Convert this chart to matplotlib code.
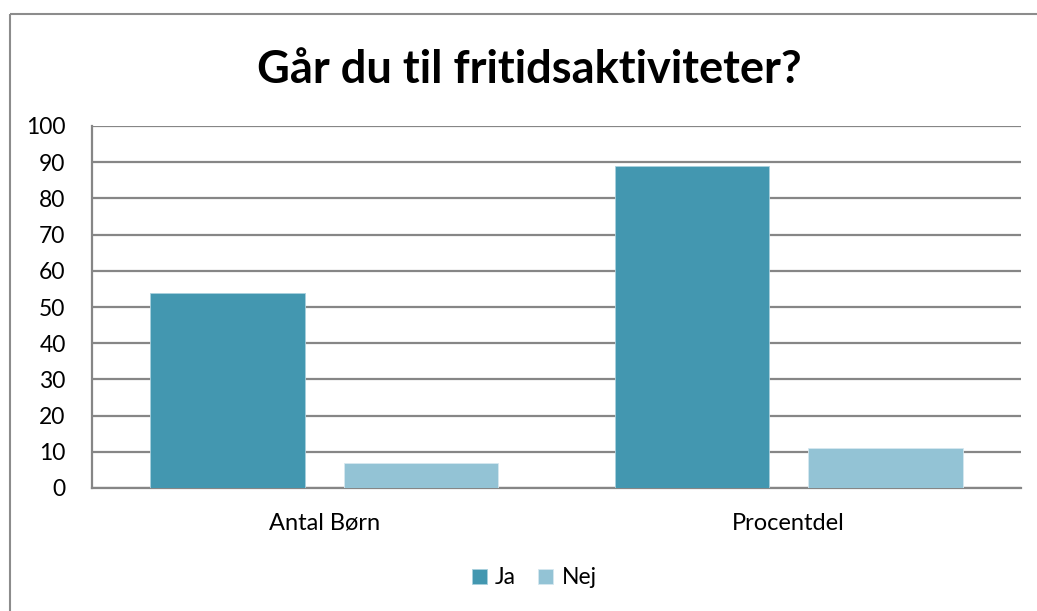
import matplotlib.pyplot as plt
from matplotlib.lines import Line2D
import numpy as np

plt.rcParams['font.family'] = ['Lato', 'DejaVu Sans']

categories = ["Antal Børn", "Procentdel"]
ja = [54, 89]
nej = [7, 11]
series_names = ["Ja", "Nej"]
ja_color = "#4397B0"
nej_color = "#93C3D5"

W, H = 1037, 611
fig = plt.figure(figsize=(W / 100, H / 100), dpi=100)
ax = fig.add_axes([92 / W, 1 - 488 / H, (1021 - 92) / W, (488 - 126) / H])

# outer chart border: only the left and top edges fall inside the picture
bx, by = 10 / W, 1 - 13.5 / H
fig.add_artist(Line2D([bx, bx], [0, by], transform=fig.transFigure,
                      color="#8c8c8c", linewidth=1.5, solid_capstyle="butt"))
fig.add_artist(Line2D([bx, 1.02], [by, by], transform=fig.transFigure,
                      color="#8c8c8c", linewidth=1.5, solid_capstyle="butt"))

x = np.arange(len(categories))
w = 0.333
gap = 0.084
b1 = ax.bar(x - (w + gap) / 2, ja, w, color=ja_color, edgecolor="#a9d0dd",
            linewidth=0.6, label=series_names[0], zorder=3)
b2 = ax.bar(x + (w + gap) / 2, nej, w, color=nej_color, edgecolor="#d6e8ef",
            linewidth=0.6, label=series_names[1], zorder=3)

ax.set_xlim(-0.5, 1.5)
ax.set_ylim(0, 100)
ax.set_yticks(range(0, 101, 10))
ax.yaxis.grid(True, color="#868686", linewidth=1.6)
ax.set_axisbelow(True)
for s in ["top", "right"]:
    ax.spines[s].set_visible(False)
for s in ["left", "bottom"]:
    ax.spines[s].set_color("#868686")
    ax.spines[s].set_linewidth(1.6)
ax.set_xticks(x)
ax.set_xticklabels(categories)
ax.tick_params(axis="both", length=0, labelsize=16.5, colors="black")
ax.tick_params(axis="y", pad=19)
ax.tick_params(axis="x", pad=18, labelsize=17)

fig.text(529 / W, 1 - 70 / H, "Går du til fritidsaktiviteter?", ha="center",
         va="center", fontsize=32.5, fontweight="bold")

fig.legend(handles=[b1, b2], loc="center", bbox_to_anchor=(534 / W, 1 - 578 / H),
           ncol=2, frameon=False, fontsize=16.5, handlelength=0.65, handleheight=0.65,
           handletextpad=0.35, columnspacing=1.0)

fig.savefig("out.png", dpi=100)
